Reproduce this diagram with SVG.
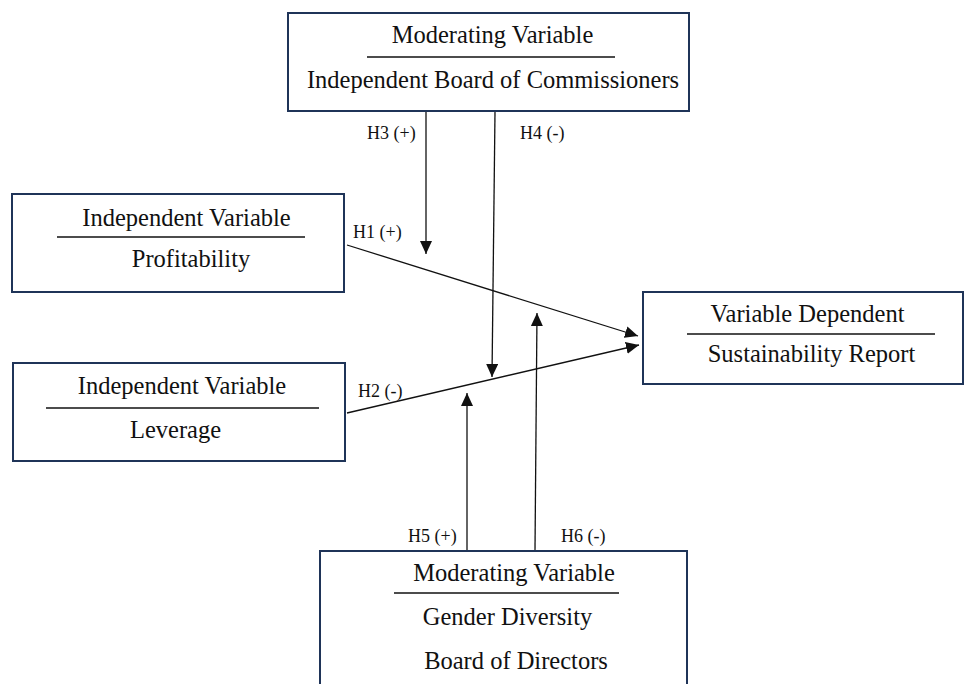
<svg xmlns="http://www.w3.org/2000/svg" width="966" height="684" viewBox="0 0 966 684">
<style>
.box{fill:#fff;stroke:#1f3458;stroke-width:2}
.t{font-family:"Liberation Serif","Times New Roman",serif;font-size:24.5px;fill:#111;text-anchor:middle}
.h{font-family:"Liberation Serif","Times New Roman",serif;font-size:18px;fill:#111}
.ul{stroke:#111;stroke-width:1.6}
.c{stroke:#111;stroke-width:1.3;fill:none;marker-end:url(#ah)}
</style>
<defs>
<marker id="ah" markerUnits="userSpaceOnUse" markerWidth="14" markerHeight="12" refX="13" refY="6" orient="auto">
<path d="M0,0 L13,6 L0,12 Z" fill="#111"/>
</marker>
</defs>
<rect width="966" height="684" fill="#fff"/>
<g id="node-top">
<rect class="box" x="288" y="13" width="401" height="98"/>
<text class="t" x="492.5" y="43">Moderating Variable</text>
<line class="ul" x1="367" y1="57" x2="615" y2="57"/>
<text class="t" x="493" y="88">Independent Board of Commissioners</text>
</g>
<g id="node-profitability">
<rect class="box" x="12" y="194" width="332" height="98"/>
<text class="t" x="186.5" y="226">Independent Variable</text>
<line class="ul" x1="57" y1="237" x2="305" y2="237"/>
<text class="t" x="191" y="267">Profitability</text>
</g>
<g id="node-leverage">
<rect class="box" x="13" y="363" width="332" height="98"/>
<text class="t" x="182" y="394">Independent Variable</text>
<line class="ul" x1="46" y1="408" x2="319" y2="408"/>
<text class="t" x="175.5" y="438">Leverage</text>
</g>
<g id="node-dependent">
<rect class="box" x="643" y="292" width="320" height="92"/>
<text class="t" x="807.5" y="322">Variable Dependent</text>
<line class="ul" x1="687" y1="334" x2="935" y2="334"/>
<text class="t" x="811.5" y="362">Sustainability Report</text>
</g>
<g id="node-bottom">
<rect class="box" x="320" y="551" width="367" height="150"/>
<text class="t" x="514" y="581">Moderating Variable</text>
<line class="ul" x1="394" y1="593" x2="619" y2="593"/>
<text class="t" x="507.5" y="625">Gender Diversity</text>
<text class="t" x="516" y="669">Board of Directors</text>
</g>
<g id="connectors">
<line class="c" x1="347" y1="245" x2="638" y2="336"/>
<line class="c" x1="347" y1="413" x2="639" y2="345"/>
<line class="c" x1="426" y1="112" x2="426" y2="254"/>
<line class="c" x1="495" y1="112" x2="492" y2="377"/>
<line class="c" x1="467" y1="550" x2="467" y2="393"/>
<line class="c" x1="535" y1="550" x2="537" y2="313"/>
<text class="h" x="367" y="139">H3 (+)</text>
<text class="h" x="520" y="139">H4 (-)</text>
<text class="h" x="353" y="238">H1 (+)</text>
<text class="h" x="358" y="397">H2 (-)</text>
<text class="h" x="408" y="542">H5 (+)</text>
<text class="h" x="561" y="542">H6 (-)</text>
</g>
</svg>
